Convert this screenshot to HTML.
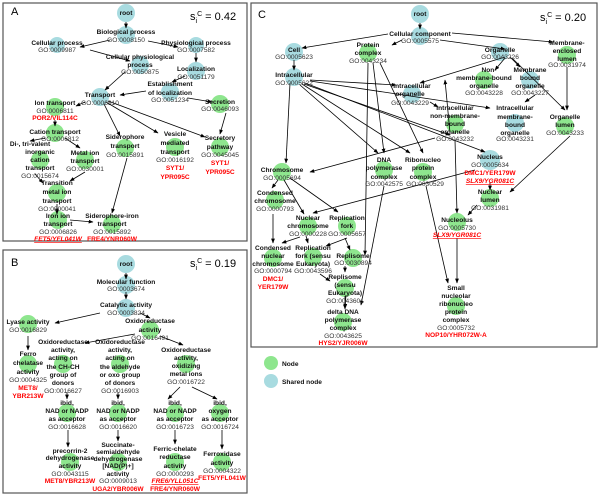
<!DOCTYPE html><html><head><meta charset="utf-8"><style>
body{margin:0;background:#fff}
svg{display:block}
text{font-family:"Liberation Sans",Arial,sans-serif;text-anchor:middle;font-size:6.6px}
.l{font-weight:bold;fill:#111}
.g{fill:#333}
.r{fill:#f00;font-weight:bold}
.u{text-decoration:underline;font-style:italic}
.t{font-size:11px;text-anchor:start}
.s{font-size:11px;text-anchor:start}
.n{fill:#8ee68e}.h{fill:#a8dbe0}
line{stroke:#000;stroke-width:0.8;marker-end:url(#a)}
</style></head><body>
<svg width="600" height="497" viewBox="0 0 600 497">
<defs><marker id="a" viewBox="0 0 10 10" refX="9" refY="5" markerWidth="6" markerHeight="6" orient="auto"><path d="M0,1L10,5L0,9z" fill="#000"/></marker></defs>
<rect x="3" y="3" width="244" height="238" fill="none" stroke="#555" stroke-width="1.2"/>
<rect x="3" y="250" width="244" height="243" fill="none" stroke="#555" stroke-width="1.2"/>
<rect x="251" y="3" width="346" height="344" fill="none" stroke="#555" stroke-width="1.2"/>
<text class="t" x="11" y="15">A</text><text class="t" x="11" y="266">B</text><text class="t" x="258" y="18">C</text>
<text class="s" x="190" y="20">s<tspan font-size="7" dy="3">i</tspan><tspan font-size="7" dy="-7">C</tspan><tspan dy="4"> = 0.42</tspan></text>
<text class="s" x="190" y="267">s<tspan font-size="7" dy="3">i</tspan><tspan font-size="7" dy="-7">C</tspan><tspan dy="4"> = 0.19</tspan></text>
<text class="s" x="540" y="21">s<tspan font-size="7" dy="3">i</tspan><tspan font-size="7" dy="-7">C</tspan><tspan dy="4"> = 0.20</tspan></text>

<!-- A circles -->
<g class="h"><circle cx="126" cy="13" r="9"/><circle cx="126" cy="35" r="9"/><circle cx="57" cy="45" r="8"/><circle cx="196" cy="45" r="8"/><circle cx="140" cy="65" r="9"/><circle cx="196" cy="71" r="9"/><circle cx="170" cy="92" r="9"/><circle cx="100" cy="97" r="9"/></g>
<g class="n"><circle cx="220" cy="104" r="9"/><circle cx="55" cy="107" r="9"/><circle cx="55" cy="133" r="9"/><circle cx="125" cy="148" r="9"/><circle cx="175" cy="147" r="9"/><circle cx="220" cy="147" r="9"/><circle cx="40" cy="160" r="9"/><circle cx="85" cy="160" r="9"/><circle cx="57" cy="193" r="9"/><circle cx="58" cy="220" r="9"/><circle cx="112" cy="224" r="9"/></g>
<g>
<line x1="126" y1="22" x2="126" y2="28"/><line x1="110" y1="40" x2="80" y2="47"/><line x1="148" y1="41" x2="178" y2="47"/>
<line x1="90" y1="50" x2="130" y2="61"/><line x1="196" y1="53" x2="196" y2="62"/><line x1="185" y1="76" x2="172" y2="82"/>
<line x1="125" y1="72" x2="105" y2="90"/><line x1="146" y1="91" x2="120" y2="95"/><line x1="188" y1="98" x2="212" y2="102"/>
<line x1="85" y1="102" x2="76" y2="106"/><line x1="55" y1="120" x2="55" y2="126"/><line x1="45" y1="138" x2="30" y2="141"/>
<line x1="65" y1="138" x2="80" y2="148"/><line x1="104" y1="104" x2="120" y2="136"/><line x1="106" y1="102" x2="158" y2="133"/>
<line x1="108" y1="101" x2="205" y2="137"/><line x1="226" y1="113" x2="220" y2="134"/><line x1="35" y1="174" x2="43" y2="183"/>
<line x1="85" y1="172" x2="70" y2="181"/><line x1="57" y1="212" x2="57" y2="213"/><line x1="127" y1="158" x2="112" y2="213"/>
<line x1="70" y1="220" x2="93" y2="222"/><line x1="57" y1="204" x2="57" y2="214"/>
</g>
<text class="l" x="126" y="15">root</text>
<text class="l" x="126" y="34">Biological process</text><text class="g" x="126" y="42">GO:0008150</text>
<text class="l" x="57" y="45">Cellular process</text><text class="g" x="57" y="52">GO:0009987</text>
<text class="l" x="196" y="45">Physiological process</text><text class="g" x="196" y="52">GO:0007582</text>
<text class="l" x="140" y="59">Cellular physiological</text><text class="l" x="140" y="67">process</text><text class="g" x="140" y="74">GO:0050875</text>
<text class="l" x="196" y="71">Localization</text><text class="g" x="196" y="79">GO:0051179</text>
<text class="l" x="170" y="86">Establishment</text><text class="l" x="170" y="95">of localization</text><text class="g" x="170" y="102">GO:0051234</text>
<text class="l" x="100" y="97">Transport</text><text class="g" x="100" y="105">GO:0006810</text>
<text class="l" x="220" y="104">Secretion</text><text class="g" x="220" y="111">GO:0046093</text>
<text class="l" x="55" y="105">Ion transport</text><text class="g" x="55" y="113">GO:0006811</text><text class="r" x="55" y="120">POR2/VIL114C</text>
<text class="l" x="55" y="134">Cation transport</text><text class="g" x="60" y="141">GO:0006812</text>
<text class="l" x="125" y="139">Siderophore</text><text class="l" x="125" y="148">transport</text><text class="g" x="125" y="157">GO:0015891</text>
<text class="l" x="175" y="136">Vesicle</text><text class="l" x="175" y="145">mediated</text><text class="l" x="175" y="154">transport</text><text class="g" x="175" y="162">GO:0016192</text><text class="r" x="175" y="170">SYT1/</text><text class="r" x="175" y="179">YPR095C</text>
<text class="l" x="220" y="140">Secretory</text><text class="l" x="220" y="149">pathway</text><text class="g" x="220" y="157">GO:0045045</text><text class="r" x="220" y="165">SYT1/</text><text class="r" x="220" y="174">YPR095C</text>
<text class="l" x="30" y="146">Di-, tri-valent</text><text class="l" x="40" y="154">inorganic</text><text class="l" x="40" y="162">cation</text><text class="l" x="40" y="170">transport</text><text class="g" x="40" y="178">GO:0015674</text>
<text class="l" x="85" y="155">Metal ion</text><text class="l" x="85" y="163">transport</text><text class="g" x="85" y="171">GO:0030001</text>
<text class="l" x="57" y="185">Transition</text><text class="l" x="57" y="194">metal ion</text><text class="l" x="57" y="203">transport</text><text class="g" x="57" y="211">GO:0000041</text>
<text class="l" x="58" y="218">Iron ion</text><text class="l" x="58" y="226">transport</text><text class="g" x="58" y="234">GO:0006826</text><text class="r u" x="58" y="241">FET5/YFL041W</text>
<text class="l" x="112" y="218">Siderophore-iron</text><text class="l" x="112" y="226">transport</text><text class="g" x="112" y="234">GO:0015892</text><text class="r" x="112" y="241">FRE4/YNR060W</text>

<!-- B -->
<g class="h"><circle cx="126" cy="264" r="9"/><circle cx="126" cy="285" r="9"/><circle cx="126" cy="308" r="9"/></g>
<g class="n"><circle cx="28" cy="324" r="9"/><circle cx="150" cy="330" r="9"/><circle cx="28" cy="364" r="9"/><circle cx="63" cy="364" r="9"/><circle cx="120" cy="364" r="9"/><circle cx="186" cy="364" r="9"/><circle cx="67" cy="413" r="9"/><circle cx="118" cy="413" r="9"/><circle cx="175" cy="413" r="9"/><circle cx="220" cy="413" r="9"/><circle cx="70" cy="462" r="9"/><circle cx="118" cy="462" r="9"/><circle cx="175" cy="462" r="9"/><circle cx="222" cy="462" r="9"/></g>
<g>
<line x1="126" y1="273" x2="126" y2="279"/><line x1="126" y1="292" x2="126" y2="299"/><line x1="100" y1="313" x2="55" y2="323"/>
<line x1="140" y1="313" x2="150" y2="318"/><line x1="28" y1="336" x2="28" y2="350"/><line x1="135" y1="334" x2="85" y2="343"/>
<line x1="160" y1="336" x2="183" y2="345"/><line x1="67" y1="392" x2="67" y2="399"/><line x1="118" y1="392" x2="118" y2="399"/>
<line x1="180" y1="387" x2="168" y2="399"/><line x1="192" y1="387" x2="217" y2="399"/><line x1="68" y1="430" x2="68" y2="447"/>
<line x1="118" y1="430" x2="118" y2="441"/><line x1="175" y1="430" x2="175" y2="444"/><line x1="222" y1="430" x2="222" y2="449"/>
</g>
<text class="l" x="126" y="266">root</text>
<text class="l" x="126" y="284">Molecular function</text><text class="g" x="126" y="291">GO:0003674</text>
<text class="l" x="126" y="307">Catalytic activity</text><text class="g" x="126" y="315">GO:0003824</text>
<text class="l" x="28" y="324">Lyase activity</text><text class="g" x="28" y="332">GO:0016829</text>
<text class="l" x="150" y="323">Oxidoreductase</text><text class="l" x="150" y="332">activity</text><text class="g" x="150" y="340">GO:0016491</text>
<text class="l" x="28" y="356">Ferro</text><text class="l" x="28" y="365">chelatase</text><text class="l" x="28" y="374">activity</text><text class="g" x="28" y="382">GO:0004325</text><text class="r" x="28" y="390">MET8/</text><text class="r" x="28" y="398">YBR213W</text>
<text class="l" x="63" y="344">Oxidoreductase</text><text class="l" x="63" y="352">activity,</text><text class="l" x="63" y="360">acting on</text><text class="l" x="63" y="369">the CH-CH</text><text class="l" x="63" y="377">group of</text><text class="l" x="63" y="385">donors</text><text class="g" x="63" y="393">GO:0016627</text>
<text class="l" x="120" y="344">Oxidoreductase</text><text class="l" x="120" y="352">activity,</text><text class="l" x="120" y="360">acting on</text><text class="l" x="120" y="369">the aldehyde</text><text class="l" x="120" y="377">or oxo group</text><text class="l" x="120" y="385">of donors</text><text class="g" x="120" y="393">GO:0016903</text>
<text class="l" x="186" y="352">Oxidoreductase</text><text class="l" x="186" y="360">activity,</text><text class="l" x="186" y="368">oxidizing</text><text class="l" x="186" y="376">metal ions</text><text class="g" x="186" y="384">GO:0016722</text>
<text class="l" x="67" y="405">ibid,</text><text class="l" x="67" y="413">NAD or NADP</text><text class="l" x="67" y="421">as acceptor</text><text class="g" x="67" y="429">GO:0016628</text>
<text class="l" x="118" y="405">ibid,</text><text class="l" x="118" y="413">NAD or NADP</text><text class="l" x="118" y="421">as acceptor</text><text class="g" x="118" y="429">GO:0016620</text>
<text class="l" x="175" y="405">ibid,</text><text class="l" x="175" y="413">NAD or NADP</text><text class="l" x="175" y="421">as acceptor</text><text class="g" x="175" y="429">GO:0016723</text>
<text class="l" x="220" y="405">ibid,</text><text class="l" x="220" y="413">oxygen</text><text class="l" x="220" y="421">as acceptor</text><text class="g" x="220" y="429">GO:0016724</text>
<text class="l" x="70" y="453">precorrin-2</text><text class="l" x="70" y="460">dehydrogenase</text><text class="l" x="70" y="468">activity</text><text class="g" x="70" y="476">GO:0043115</text><text class="r" x="70" y="483">MET8/YBR213W</text>
<text class="l" x="118" y="447">Succinate-</text><text class="l" x="118" y="454">semialdehyde</text><text class="l" x="118" y="461">dehydrogenase</text><text class="l" x="118" y="468">[NAD(P)+]</text><text class="l" x="118" y="476">activity</text><text class="g" x="118" y="483">GO:0009013</text><text class="r" x="118" y="491">UGA2/YBR006W</text>
<text class="l" x="175" y="451">Ferric-chelate</text><text class="l" x="175" y="459">reductase</text><text class="l" x="175" y="468">activity</text><text class="g" x="175" y="476">GO:0000293</text><text class="r u" x="175" y="483">FRE6/YLL051C</text><text class="r" x="175" y="491">FRE4/YNR060W</text>
<text class="l" x="222" y="456">Ferroxidase</text><text class="l" x="222" y="465">activity</text><text class="g" x="222" y="473">GO:0004322</text><text class="r" x="222" y="480">FET5/YFL041W</text>

<!-- C -->
<g class="h"><circle cx="420" cy="14" r="9"/><circle cx="420" cy="36" r="9"/><circle cx="294" cy="52" r="9"/><circle cx="500" cy="52" r="9"/><circle cx="294" cy="77" r="9"/><circle cx="530" cy="80" r="9"/><circle cx="412" cy="94" r="9"/><circle cx="515" cy="123" r="9"/><circle cx="490" cy="160" r="10"/></g>
<g class="n"><circle cx="368" cy="53" r="9"/><circle cx="567" cy="55" r="9"/><circle cx="484" cy="80" r="9"/><circle cx="455" cy="124" r="9"/><circle cx="565" cy="126" r="9"/><circle cx="384" cy="170" r="9"/><circle cx="423" cy="172" r="9"/><circle cx="282" cy="172" r="9"/><circle cx="490" cy="198" r="9"/><circle cx="275" cy="200" r="9"/><circle cx="308" cy="226" r="9"/><circle cx="347" cy="226" r="9"/><circle cx="457" cy="222" r="9"/><circle cx="273" cy="258" r="9"/><circle cx="313" cy="257" r="9"/><circle cx="353" cy="258" r="9"/><circle cx="345" cy="288" r="9"/><circle cx="343" cy="322" r="9"/><circle cx="456" cy="306" r="9"/></g>
<g>
<line x1="420" y1="23" x2="420" y2="29"/><line x1="388" y1="34" x2="302" y2="48"/><line x1="402" y1="40" x2="392" y2="45"/>
<line x1="440" y1="40" x2="505" y2="49"/><line x1="452" y1="33" x2="553" y2="42"/><line x1="294" y1="60" x2="294" y2="70"/>
<line x1="505" y1="57" x2="420" y2="83"/><line x1="505" y1="58" x2="495" y2="70"/><line x1="510" y1="57" x2="520" y2="67"/>
<line x1="512" y1="58" x2="565" y2="110"/><line x1="567" y1="67" x2="567" y2="110"/><line x1="310" y1="80" x2="396" y2="85"/>
<line x1="310" y1="81" x2="490" y2="108"/><line x1="430" y1="102" x2="438" y2="107"/><line x1="535" y1="95" x2="525" y2="102"/>
<line x1="290" y1="83" x2="286" y2="163"/><line x1="300" y1="85" x2="378" y2="153"/><line x1="302" y1="84" x2="410" y2="153"/>
<line x1="305" y1="83" x2="485" y2="152"/><line x1="304" y1="84" x2="450" y2="135"/><line x1="368" y1="63" x2="365" y2="255"/>
<line x1="373" y1="63" x2="384" y2="153"/><line x1="380" y1="63" x2="423" y2="153"/><line x1="435" y1="138" x2="310" y2="172"/>
<line x1="450" y1="133" x2="445" y2="80"/><line x1="455" y1="140" x2="457" y2="213"/><line x1="490" y1="182" x2="490" y2="190"/>
<line x1="570" y1="136" x2="510" y2="192"/><line x1="278" y1="180" x2="272" y2="188"/><line x1="284" y1="180" x2="304" y2="214"/>
<line x1="290" y1="178" x2="338" y2="212"/><line x1="475" y1="170" x2="313" y2="213"/><line x1="477" y1="205" x2="468" y2="215"/>
<line x1="273" y1="214" x2="273" y2="243"/><line x1="300" y1="237" x2="282" y2="243"/><line x1="306" y1="236" x2="308" y2="243"/>
<line x1="347" y1="238" x2="326" y2="246"/><line x1="345" y1="238" x2="350" y2="250"/><line x1="320" y1="274" x2="330" y2="281"/>
<line x1="345" y1="266" x2="345" y2="272"/><line x1="346" y1="295" x2="345" y2="308"/><line x1="384" y1="186" x2="361" y2="305"/>
<line x1="426" y1="186" x2="448" y2="283"/><line x1="457" y1="238" x2="457" y2="283"/><line x1="345" y1="296" x2="345" y2="309"/>
</g>
<text class="l" x="420" y="16">root</text>
<text class="l" x="420" y="36">Cellular component</text><text class="g" x="420" y="43">GO:0005575</text>
<text class="l" x="294" y="52">Cell</text><text class="g" x="294" y="59">GO:0005623</text>
<text class="l" x="368" y="47">Protein</text><text class="l" x="368" y="55">complex</text><text class="g" x="368" y="63">GO:0043234</text>
<text class="l" x="500" y="52">Organelle</text><text class="g" x="500" y="59">GO:0043226</text>
<text class="l" x="567" y="45">Membrane-</text><text class="l" x="567" y="53">enclosed</text><text class="l" x="567" y="61">lumen</text><text class="g" x="567" y="67">GO:0031974</text>
<text class="l" x="294" y="77">Intracellular</text><text class="g" x="294" y="85">GO:0005622</text>
<text class="l" x="489" y="72">Non-</text><text class="l" x="484" y="80">membrane-bound</text><text class="l" x="484" y="88">organelle</text><text class="g" x="484" y="95">GO:0043228</text>
<text class="l" x="530" y="72">Membrane</text><text class="l" x="530" y="80">bound</text><text class="l" x="530" y="88">organelle</text><text class="g" x="530" y="95">GO:0043227</text>
<text class="l" x="412" y="88">Intracellular</text><text class="l" x="410" y="96">organelle</text><text class="g" x="410" y="105">GO:0043229</text>
<text class="l" x="455" y="110">Intracellular</text><text class="l" x="455" y="118">non-membrane-</text><text class="l" x="455" y="126">bound</text><text class="l" x="455" y="134">organelle</text><text class="g" x="455" y="141">GO:0043232</text>
<text class="l" x="515" y="110">Intracellular</text><text class="l" x="515" y="119">membrane-</text><text class="l" x="515" y="127">bound</text><text class="l" x="515" y="135">organelle</text><text class="g" x="515" y="141">GO:0043231</text>
<text class="l" x="565" y="119">Organelle</text><text class="l" x="565" y="127">lumen</text><text class="g" x="565" y="135">GO:0043233</text>
<text class="l" x="490" y="159">Nucleus</text><text class="g" x="490" y="167">GO:0005634</text><text class="r" x="490" y="175">DMC1/YER179W</text><text class="r u" x="490" y="183">SLX9/YGR081C</text>
<text class="l" x="384" y="162">DNA</text><text class="l" x="384" y="170">polymerase</text><text class="l" x="384" y="179">complex</text><text class="g" x="384" y="186">GO:0042575</text>
<text class="l" x="423" y="162">Ribonucleo</text><text class="l" x="423" y="170">protein</text><text class="l" x="423" y="179">complex</text><text class="g" x="425" y="186">GO:0030529</text>
<text class="l" x="282" y="172">Chromosome</text><text class="g" x="282" y="180">GO:0005694</text>
<text class="l" x="490" y="194">Nuclear</text><text class="l" x="490" y="202">lumen</text><text class="g" x="490" y="210">GO:0031981</text>
<text class="l" x="275" y="195">Condensed</text><text class="l" x="275" y="203">chromosome</text><text class="g" x="275" y="211">GO:0000793</text>
<text class="l" x="308" y="220">Nuclear</text><text class="l" x="308" y="228">chromosome</text><text class="g" x="308" y="236">GO:0000228</text>
<text class="l" x="347" y="220">Replication</text><text class="l" x="347" y="228">fork</text><text class="g" x="347" y="236">GO:0005657</text>
<text class="l" x="457" y="222">Nucleolus</text><text class="g" x="457" y="230">GO:0005730</text><text class="r u" x="457" y="237">SLX9/YGR081C</text>
<text class="l" x="273" y="250">Condensed</text><text class="l" x="273" y="258">nuclear</text><text class="l" x="273" y="266">chromosome</text><text class="g" x="273" y="273">GO:0000794</text><text class="r" x="273" y="281">DMC1/</text><text class="r" x="273" y="289">YER179W</text>
<text class="l" x="313" y="250">Replication</text><text class="l" x="313" y="258">fork (sensu</text><text class="l" x="313" y="266">Eukaryota)</text><text class="g" x="313" y="273">GO:0043596</text>
<text class="l" x="353" y="258">Replisome</text><text class="g" x="353" y="265">GO:0030894</text>
<text class="l" x="345" y="279">Replisome</text><text class="l" x="345" y="287">(sensu</text><text class="l" x="345" y="295">Eukaryota)</text><text class="g" x="345" y="303">GO:0043601</text>
<text class="l" x="343" y="314">delta DNA</text><text class="l" x="343" y="322">polymerase</text><text class="l" x="343" y="330">complex</text><text class="g" x="343" y="338">GO:0043625</text><text class="r" x="343" y="345">HYS2/YJR006W</text>
<text class="l" x="456" y="290">Small</text><text class="l" x="456" y="298">nucleolar</text><text class="l" x="456" y="306">ribonucleo</text><text class="l" x="456" y="314">protein</text><text class="l" x="456" y="322">complex</text><text class="g" x="456" y="330">GO:0005732</text><text class="r" x="456" y="337">NOP10/YHR072W-A</text>

<circle class="n" cx="271" cy="363" r="7"/><text class="l" x="282" y="366" style="text-anchor:start">Node</text>
<circle class="h" cx="271" cy="381" r="7"/><text class="l" x="282" y="384" style="text-anchor:start">Shared node</text>
</svg></body></html>
